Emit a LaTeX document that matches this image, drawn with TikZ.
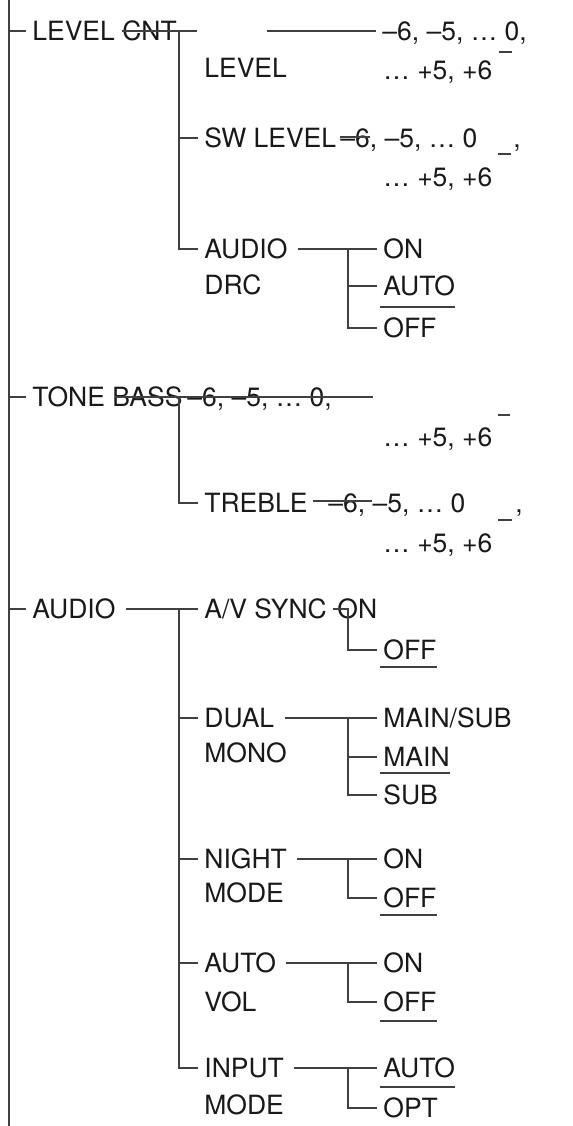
\documentclass[tikz,border=0pt]{standalone}
\usepackage{fontspec}
\setmainfont{TeX Gyre Heros}
\usetikzlibrary{positioning}
\newcommand\pxunit{0.5pt}
\newcommand\ubar[2][4pt]{
  \draw[defbar] ([xshift=1.5pt,yshift=-#1]#2.south west)
    -- ([xshift=-3pt,yshift=-#1]#2.south east);
}

\begin{document}
\begin{tikzpicture}[
    x=\pxunit,y=-\pxunit,
    lbl/.style={anchor=west,inner xsep=3pt,inner ysep=0pt,
      text height=9.5pt,text depth=0pt,text=black!90,
      font=\fontsize{13.25}{15}\selectfont},
    ln/.style={line width=1pt,draw=black!75},
    defbar/.style={line width=1pt,draw=black!75}
  ]
    \useasboundingbox (0,0) rectangle (573,1126);

    \coordinate (trunktop) at (9,0);
    \coordinate (trunkbot) at (9,1126);
    \coordinate (col3) at (348,0);

    % level cnt
    \node[lbl] (lvlcnt) at (26,31) {LEVEL CNT};
    \node[lbl] (level) at (198,68) {LEVEL};
    \node[lbl] (lvlval) at (376,31) {–6, –5, … 0,};
    \node[lbl] (lvlvalb) at (377,70) {… +5, +6};
    \node[lbl] (swlevel) at (198,138) {SW LEVEL};
    \node[lbl] (swval) at (334,138) {–6, –5, … 0};
    \node[lbl] (swcomma) at (507,138) {,};
    \node[lbl] (swvalb) at (377,177) {… +5, +6};
    \node[lbl] (drc) at (198,249) {AUDIO};
    \node[lbl] (drcb) at (198,285) {DRC};
    \node[lbl] (drcon) at (377,249) {ON};
    \node[lbl] (drcauto) at (377,286) {AUTO};
    \node[lbl] (drcoff) at (377,328) {OFF};

    % tone
    \node[lbl] (tone) at (26,397) {TONE BASS};
    \node[lbl] (bassval) at (181,397) {–6, –5, … 0,};
    \node[lbl] (bassvalb) at (377,437) {… +5, +6};
    \node[lbl] (treble) at (198,503) {TREBLE};
    \node[lbl] (trebval) at (322,503) {–6, –5, … 0};
    \node[lbl] (trebcomma) at (509,503) {,};
    \node[lbl] (trebvalb) at (377,543) {… +5, +6};

    % audio
    \node[lbl] (audio) at (26,609) {AUDIO};
    \node[lbl] (avsync) at (198,609) {A/V SYNC};
    \node[lbl] (avon) at (331,609) {ON};
    \node[lbl] (avoff) at (377,650) {OFF};
    \node[lbl] (dual) at (198,718) {DUAL};
    \node[lbl] (dualb) at (198,753) {MONO};
    \node[lbl] (mainsub) at (377,718) {MAIN/SUB};
    \node[lbl] (main) at (377,757) {MAIN};
    \node[lbl] (sub) at (377,795) {SUB};
    \node[lbl] (night) at (198,859) {NIGHT};
    \node[lbl] (nightb) at (198,893) {MODE};
    \node[lbl] (nighton) at (377,859) {ON};
    \node[lbl] (nightoff) at (377,898) {OFF};
    \node[lbl] (avol) at (198,963) {AUTO};
    \node[lbl] (avolb) at (198,1002) {VOL};
    \node[lbl] (avolon) at (377,963) {ON};
    \node[lbl] (avoloff) at (377,1002) {OFF};
    \node[lbl] (input) at (198,1068) {INPUT};
    \node[lbl] (inputb) at (198,1105) {MODE};
    \node[lbl] (inauto) at (377,1068) {AUTO};
    \node[lbl] (inopt) at (377,1108) {OPT};

    % trunk
    \draw[ln] (trunktop) -- (trunkbot);
    \foreach \n in {lvlcnt,tone,audio}
      \draw[ln] (trunktop |- \n.west) -- (\n.west);

    % second level
    \coordinate (lvlfork) at (179,31);
    \coordinate (lvlstrike) at (122,31);
    \coordinate (lvlgap) at (267,31);
    \draw[ln] (lvlstrike) -- (197,31);
    \draw[ln] (lvlgap) -- (lvlval.west);
    \draw[ln] (lvlfork) |- (drc.west);
    \draw[ln] (lvlfork |- swlevel.west) -- (swlevel.west);
    \draw[ln] (340,137) -- (370,137);

    \coordinate (tonefork) at (179,397);
    \draw[ln] (115,397) -- (373,397);
    \draw[ln] (tonefork) |- (treble.west);
    \draw[ln] (313,501) -- (372,501);

    \coordinate (audiofork) at (179,609);
    \draw[ln] ([xshift=2pt]audio.east) -- (avsync.west);
    \draw[ln] (audiofork) |- (input.west);
    \foreach \n in {dual,night,avol}
      \draw[ln] (audiofork |- \n.west) -- (\n.west);

    % third level
    \foreach \p/\a/\z in {drc/drcon/drcoff,dual/mainsub/sub,
        night/nighton/nightoff,avol/avolon/avoloff,input/inauto/inopt}{
      \draw[ln] ([xshift=2pt]\p.east) -- (\a.west);
      \draw[ln] (col3 |- \a.west) |- (\z.west);
    }
    \foreach \n in {drcauto,main}
      \draw[ln] (col3 |- \n.west) -- (\n.west);
    \draw[ln] (333,609) -- (col3 |- avon.west) |- (avoff.west);

    % defaults
    \ubar[5.75pt]{drcauto}
    \ubar[3.75pt]{avoff}
    \ubar[3.25pt]{main}
    \ubar[3.75pt]{nightoff}
    \ubar[4.75pt]{avoloff}
    \ubar[4.75pt]{inauto}
    \draw[defbar] (499,52) -- (512,52);
    \draw[defbar] (498,154) -- (511,154);
    \draw[defbar] (498,415) -- (510,415);
    \draw[defbar] (498,520) -- (512,520);
  \end{tikzpicture}
\end{document}
